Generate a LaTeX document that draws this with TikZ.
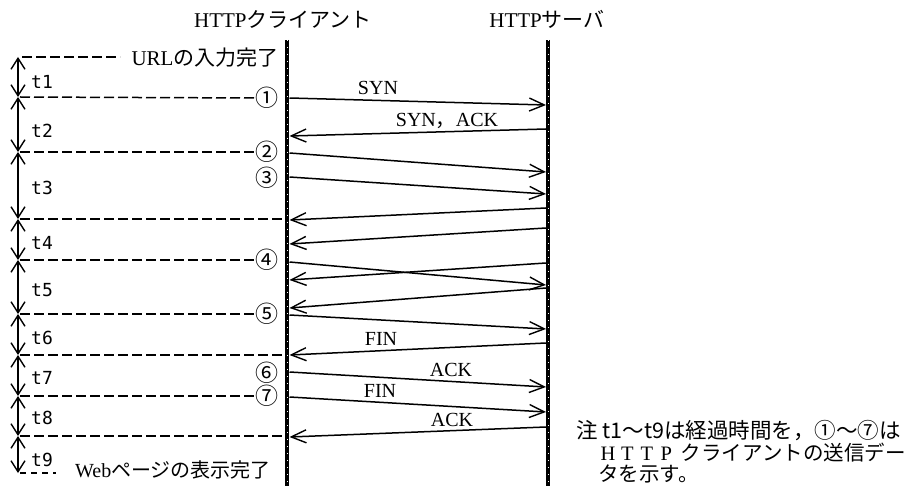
\documentclass[tikz,border=0pt]{standalone}
\usepackage{fontspec}
\setmainfont{Liberation Serif}
\newfontfamily\jpfont{Noto Sans CJK JP}
\newfontfamily\tmfont{DejaVu Sans Mono}
\usetikzlibrary{arrows.meta}
\newcommand\fwbox[1]{\makebox[19.5pt]{#1}}
\begin{document}
\begin{tikzpicture}[x=1pt,y=-1pt,
  lifeline/.style={line width=4.5pt},
  speck/.style={white,line width=0.6pt,dash pattern=on 1pt off 6pt},
  msg/.style={line width=1.5pt,-{Straight Barb[length=15pt,width=13pt,line width=1.4pt]}},
  guide/.style={line width=1.5pt,dash pattern=on 10pt off 4pt},
  span/.style={line width=1.4pt,{Straight Barb[length=11pt,width=14pt,line width=1.4pt]}-{Straight Barb[length=11pt,width=14pt,line width=1.4pt]}},
  tlabel/.style={font=\fontsize{18}{18}\selectfont\tmfont,anchor=west,inner sep=0pt},
  num/.style={font=\fontsize{23}{23}\selectfont\jpfont,inner sep=0pt},
  lbl/.style={font=\fontsize{20}{20}\selectfont,inner sep=0pt},
  ttl/.style={font=\fontsize{21}{21}\selectfont,inner sep=0pt},
  notetxt/.style={font=\fontsize{20.5}{20.5}\selectfont\jpfont,inner sep=0pt,anchor=west},
]
\useasboundingbox (0,0) rectangle (918,486);

% titles
\node[ttl] (tc) at (283,19) {HTTP{\jpfont クライアント}};
\node[ttl] (ts) at (547,19) {HTTP{\jpfont サーバ}};

% lifelines
\coordinate (cTop) at (287,40);
\coordinate (cBot) at (287,486);
\coordinate (sTop) at (548,40);
\coordinate (sBot) at (548,486);
\draw[lifeline] (cTop) -- (cBot);
\draw[lifeline] (sTop) -- (sBot);
\draw[speck] (cTop) -- (cBot);
\draw[speck] (sTop) -- (sBot);

% time axis levels
\foreach \n/\y in {0/57,1/97,2/152,3/219,4/260,5/314,6/355,7/396,8/436,9/473}{
  \coordinate (a\n) at (18,\y);
}
\foreach \i/\j in {0/1,1/2,2/3,3/4,4/5,5/6,6/7,7/8,8/9}{
  \draw[span] (a\i) -- (a\j);
}

% t labels
\node[tlabel] (t1) at (31,82) {t1};
\node[tlabel] (t2) at (31,131) {t2};
\node[tlabel] (t3) at (31,188) {t3};
\node[tlabel] (t4) at (31,243) {t4};
\node[tlabel] (t5) at (31,290) {t5};
\node[tlabel] (t6) at (31,338) {t6};
\node[tlabel] (t7) at (31,378) {t7};
\node[tlabel] (t8) at (31,418) {t8};
\node[tlabel] (t9) at (31,460) {t9};

% top and bottom texts
\coordinate (u0) at (22,57);
\coordinate (u1) at (120,57);
\draw[guide] (u0) -- (u1);
\node[ttl] (url) at (205,58) {URL{\jpfont の入力完了}};
\coordinate (w0) at (20,473);
\coordinate (w1) at (56,473);
\draw[line width=1.5pt,dash pattern=on 6pt off 5pt] (w0) -- (w1);
\node[lbl] (web) at (173,470) {Web{\jpfont ページの表示完了}};

% circled numbers
\node[num] (n1) at (267,98) {①};
\node[num] (n2) at (267,152) {②};
\node[num] (n3) at (267,178) {③};
\node[num] (n4) at (267,260) {④};
\node[num] (n5) at (267,314) {⑤};
\node[num] (n6) at (267,373) {⑥};
\node[num] (n7) at (267,396) {⑦};

% dashed guides
\coordinate (g1) at (20,97);
\coordinate (g2) at (20,152);
\coordinate (g3) at (20,219);
\coordinate (g4) at (20,260);
\coordinate (g5) at (20,314);
\coordinate (g6) at (20,355);
\coordinate (g7) at (20,396);
\coordinate (g8) at (20,436);
\coordinate (e3) at (287,219);
\coordinate (e6) at (287,355);
\coordinate (e8) at (287,436);
\draw[guide] (g1) -- (n1.west);
\draw[guide] (g2) -- (n2.west);
\draw[guide] (g3) -- (e3);
\draw[guide] (g4) -- (n4.west);
\draw[guide] (g5) -- (n5.west);
\draw[guide] (g6) -- (e6);
\draw[guide] (g7) -- (n7.west);
\draw[guide] (g8) -- (e8);

% messages
\foreach \k/\cy/\sy in {1/98/105,2/136/129,3/153/172,4/177/194,5/220/208,6/244/228,7/262/285,8/280/263,9/308/288,10/315/329,11/355/343,12/372/387,13/397/412,14/437/427}{
  \coordinate (c\k) at (289.5,\cy);
  \coordinate (s\k) at (546,\sy);
}
\foreach \k in {1,3,4,7,10,12,13}{ \draw[msg] (c\k) -- (s\k); }
\foreach \k in {2,5,6,8,9,11,14}{ \draw[msg] (s\k) -- (c\k); }

% message labels
\node[lbl] (l1) at (378,88) {SYN};
\node[lbl] (l2) at (447,121) {SYN{\jpfont ，}ACK};
\node[lbl] (l11) at (381,339) {FIN};
\node[lbl] (l12) at (451,370) {ACK};
\node[lbl] (l13) at (380,391) {FIN};
\node[lbl] (l14) at (452,420) {ACK};

% note
\node[notetxt,font=\fontsize{21.5}{21.5}\selectfont\jpfont] (note1) at (576,431) {注 t1〜t9は経過時間を，①〜⑦は};
\node[notetxt] (note2) at (598,453) {{\rmfamily\fwbox{H}\fwbox{T}\fwbox{T}\fwbox{P}} クライアントの送信デー};
\node[notetxt] (note3) at (598,474) {タを示す。};
\end{tikzpicture}
\end{document}
